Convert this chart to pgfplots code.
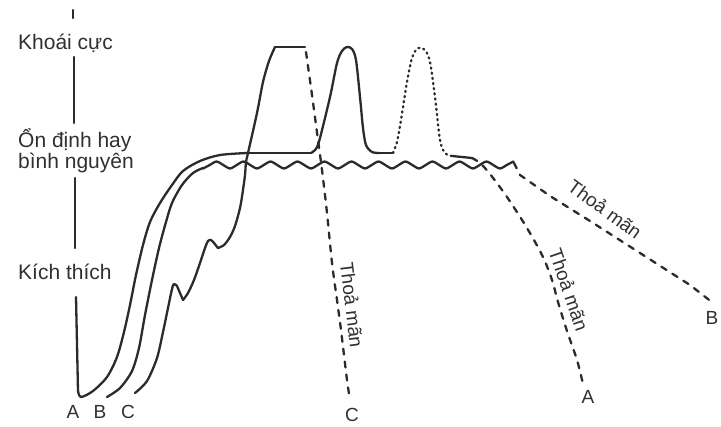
\documentclass[border=0pt]{standalone}
\usepackage{fontspec}
\setmainfont{Liberation Sans}
\usepackage{pgfplots}
\pgfplotsset{compat=1.18}
\definecolor{ink}{HTML}{2B2B2B}
\definecolor{txt}{HTML}{303030}
\begin{document}
\begin{tikzpicture}[
  lbl/.style={inner sep=0pt, text=txt, font=\fontsize{21bp}{24bp}\selectfont},
  sml/.style={inner sep=0pt, text=txt, font=\fontsize{19bp}{22bp}\selectfont},
]
\begin{axis}[
  scale only axis, width=721bp, height=427bp,
  xmin=0, xmax=721, ymin=0, ymax=427, y dir=reverse,
  hide axis, clip=false,
  cycle list={{ink, solid, mark=none}},
  every axis plot/.append style={ink, mark=none, line width=2.3bp, line cap=round, line join=round, forget plot},
]
% frame that fixes the bounding box
\addplot[draw=none] coordinates {(0,0) (721,427)};

% vertical axis, broken where the labels stand
\addplot coordinates {(73,10) (73,18)};
\addplot coordinates {(74,57) (74,123)};
\addplot coordinates {(75,178) (75,248)};

% curve A: rise, plateau, two orgasms, resolution
\addplot coordinates {(76,297) (78,391)};
\addplot[smooth] coordinates {(78,391) (81,397) (93,391) (107,377) (117,357) (124,332) (130,305)
  (136,275) (143,245) (150,222) (160,203) (172,185) (183,171) (200,161) (220,155) (247,153)};
\addplot coordinates {(247,153) (311,153)};
\addplot[smooth] coordinates {(311,153) (316,149) (320,138) (330,97) (337,63) (342,51) (347,47)
  (352,49) (356,60) (360,97) (363,128) (366,145) (372,152) (380,153)};
\addplot coordinates {(380,153) (393,153)};
\addplot[smooth, dash pattern=on 1.2bp off 4bp] coordinates {(393,153) (397,142) (401,120) (407,82)
  (412,58) (418,48) (425,50) (430,62) (435,97) (440,140) (445,153) (452,156)};
\addplot[smooth] coordinates {(452,156) (462,157) (472,158)};
\addplot[smooth, dash pattern=on 6bp off 7bp] coordinates {(472,158) (480,163) (490,174) (507,197)
  (527,228) (543,257) (552,280) (558,302) (567,331) (577,360) (583,384)};

% curve B: rise, wavy plateau, resolution
\addplot[smooth] coordinates {(107,397) (120,388) (132,371) (139,348) (145,315) (152,280) (159,248)
  (166,222) (172,203) (182,185) (193,173) (203,168)};
\addplot[smooth] coordinates {
  (203,168.5) (209.75,165) (216.5,161.5) (223.25,165) (230,168.5) (236.75,165) (243.5,161.5) (250.25,165)
  (257,168.5) (263.75,165) (270.5,161.5) (277.25,165) (284,168.5) (290.75,165) (297.5,161.5) (304.25,165)
  (311,168.5) (317.75,165) (324.5,161.5) (331.25,165) (338,168.5) (344.75,165) (351.5,161.5) (358.25,165)
  (365,168.5) (371.75,165) (378.5,161.5) (385.25,165) (392,168.5) (398.75,165) (405.5,161.5) (412.25,165)
  (419,168.5) (425.75,165) (432.5,161.5) (439.25,165) (446,168.5) (452.75,165) (459.5,161.5) (466.25,165)
  (473,168.5) (479.75,165) (486.5,161.5) (493.25,165) (500,168.5) (506.75,165) (513.5,161.5)};
\addplot[dash pattern=on 6bp off 7bp] coordinates {(514,163) (520,175) (550,196) (590,221) (640,253)
  (690,285) (713,303)};

% curve C: jagged rise, orgasm, quick resolution
\addplot[smooth] coordinates {(135,393) (147,381) (157,358) (163,332) (168,308) (172,289) (174,284) (177,286)};
\addplot coordinates {(177,286) (183,300)};
\addplot[smooth] coordinates {(183,300) (188,293) (194,280) (200,263) (205,248) (208,241) (211,240) (214,243)};
\addplot coordinates {(214,243) (218,248)};
\addplot[smooth] coordinates {(218,248) (224,245) (230,237) (235,226) (240,208) (243,190) (245,175)
  (246,162) (248,153) (257,113) (263,82) (269,61) (275,47)};
\addplot coordinates {(275,47) (305,47)};
\addplot[smooth, dash pattern=on 6bp off 7bp] coordinates {(306,52) (312,95) (318,140) (322,170)
  (327,213) (332,263) (337,300) (341,330) (347,380) (350,400)};

% labels of the vertical axis
\node[lbl, anchor=west] at (axis cs:18,43) {Khoái cực};
\node[lbl, anchor=west] at (axis cs:18,140) {Ổn định hay};
\node[lbl, anchor=west] at (axis cs:18,163) {bình nguyên};
\node[lbl, anchor=west] at (axis cs:18,272) {Kích thích};

% curve names
\node[sml] at (axis cs:73,412) {A};
\node[sml] at (axis cs:100,412) {B};
\node[sml] at (axis cs:128,412) {C};
\node[sml] at (axis cs:352,415) {C};
\node[sml] at (axis cs:588,397) {A};
\node[sml] at (axis cs:712,318) {B};

% resolution labels
\node[sml, rotate=-83] at (axis cs:352,305) {Thoả mãn};
\node[sml, rotate=-71] at (axis cs:569,290) {Thoả mãn};
\node[sml, rotate=-36] at (axis cs:605,209) {Thoả mãn};
\end{axis}
\end{tikzpicture}
\end{document}
